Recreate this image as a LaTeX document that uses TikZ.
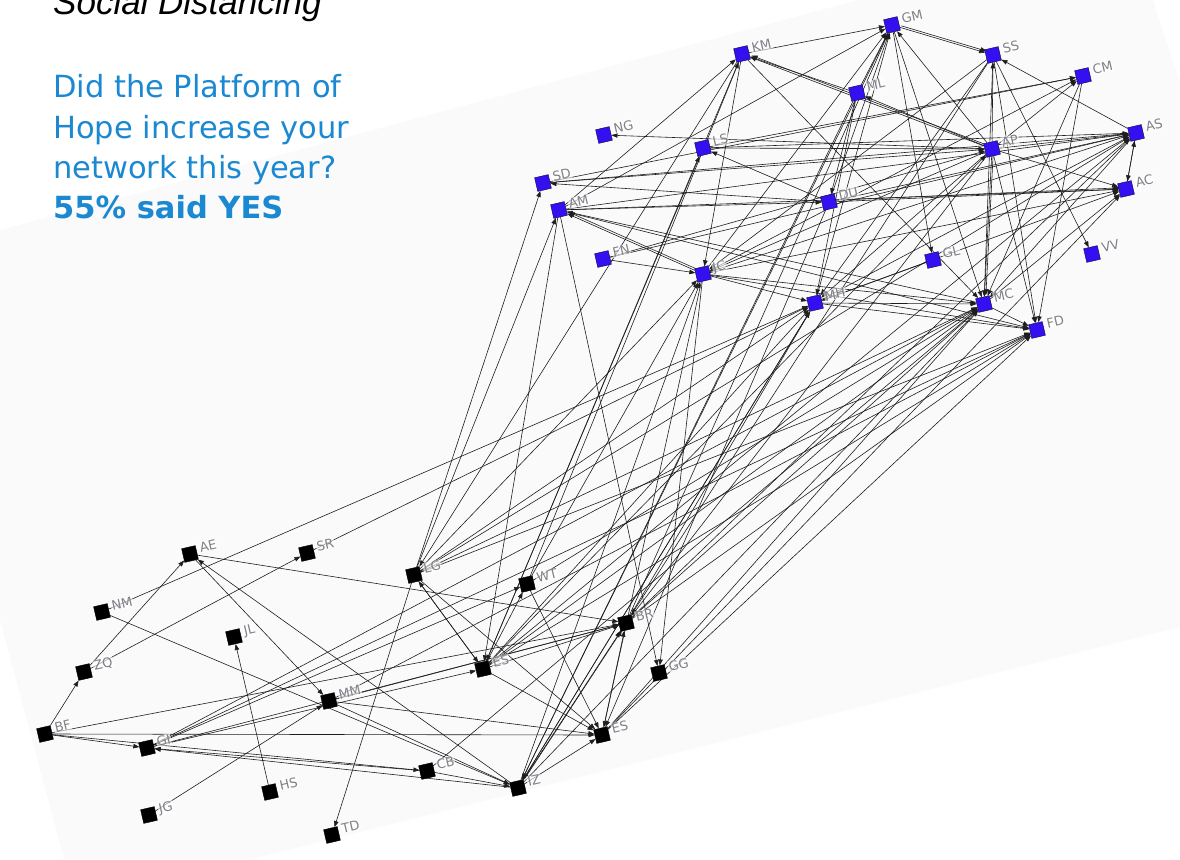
\documentclass[tikz,border=0pt]{standalone}
\usepackage{fontspec}
\setmainfont{DejaVu Sans}
\newfontfamily\headfont{Liberation Sans}
\usetikzlibrary{arrows.meta,calc,backgrounds}
\definecolor{qblue}{RGB}{27,136,210}
\definecolor{nodeblue}{RGB}{52,16,240}
\definecolor{edgegray}{RGB}{30,30,30}
\definecolor{labgray}{RGB}{128,128,136}
\definecolor{panel}{RGB}{250,250,250}

\begin{document}
\begin{tikzpicture}[x=1pt,y=-1pt,
  sqb/.style={draw=black!70!nodeblue, fill=nodeblue, minimum size=14pt, inner sep=0pt, rotate=13, line width=0.4pt},
  sqk/.style={draw=black, fill=black, minimum size=14pt, inner sep=0pt, rotate=13},
  lab/.style={text=labgray, font=\fontsize{13}{15}\selectfont, anchor=base west, inner sep=0.6pt,
    rotate=13, fill=white, fill opacity=0.6, text opacity=1},
  edge/.style={draw=edgegray, line width=0.6pt, -{Triangle[length=6pt,width=4.5pt]}},
  qtext/.style={text=qblue, anchor=base west, inner sep=0pt, font=\fontsize{30.5}{40}\selectfont}]

\useasboundingbox (0,0) rectangle (1180,859);

% people, upper group
\foreach \n/\x/\y in {GM/892/25, KM/742/54, SS/993/55, CM/1083/76,
  ML/857/93, AS/1136/133, NG/604/135, LS/703/148, AP/992/149,
  SD/543/183, AC/1126/189, AM/559/210, DU/829/202, FN/603/259,
  JC/703/274, GL/933/260, VV/1092/254, MH/815/303, MC/984/304, FD/1037/330}
  \node[sqb] (\n) at (\x,\y) {};

% people, lower group
\foreach \n/\x/\y in {AE/190/554, SR/307/553, LG/414/575, WT/527/584,
  NM/102/612, BR/626/623, JL/234/637, ZQ/84/672, ESa/483/669,
  GG/659/673, MM/329/701, BF/45/734, ESb/602/735, GI/147/748,
  CB/427/771, IZ/518/788, HS/270/792, JG/149/815, TD/332/835}
  \node[sqk] (\n) at (\x,\y) {};

% initials beside each square
\foreach \n/\s in {GM/GM, KM/KM, SS/SS, CM/CM, ML/ML, AS/AS, NG/NG, LS/LS, AP/AP,
  SD/SD, AC/AC, AM/AM, DU/DU, FN/FN, JC/JC, GL/GL, VV/VV, MH/MH, MC/MC, FD/FD,
  AE/AE, SR/SR, LG/LG, WT/WT, NM/NM, BR/BR, JL/JL, ZQ/ZQ, ESa/ES, GG/GG, MM/MM,
  BF/BF, ESb/ES, GI/GI, CB/CB, IZ/IZ, HS/HS, JG/JG, TD/TD}
  \node[lab] (\n-l) at ($(\n)+(10,-1.5)$) {\s};

\begin{pgfonlayer}{background}
  % tilted sheet behind the network
  \fill[panel] (0,230) -- (858,0) -- (1153,0) -- (1180,82) -- (1180,627)
    -- (252,859) -- (64,859) -- (0,620) -- cycle;

  % ties inside the upper group
  \foreach \a/\b in {KM/GM, ML/GM, AP/GM, JC/GM, MH/GM, AM/GM, DU/GM,
    GM/SS, AS/SS, AP/SS, SS/MC, SS/VV, SS/FD, SS/MH, SS/JC,
    AP/CM, AP/AS, AP/AC, AP/KM, ML/KM, AP/ML, AP/NG, AP/MC, AP/FD, AP/MH, AP/JC,
    LS/AP, SD/AP, FN/AP,
    SD/CM, LS/CM, JC/CM, CM/FD, CM/MC,
    SD/AS, AM/AS, LS/AS, FN/AS, JC/AS, MH/AS, DU/AS, AS/AC, AC/AS, AS/MC,
    DU/AC, AM/AC, MC/AC, JC/AC, MH/AC,
    DU/SD, DU/LS, AM/DU, ML/DU, ML/MH,
    JC/AM, MC/AM, AM/FD, AM/KM,
    FN/JC, KM/JC, KM/MC, GM/MC, GM/GL, GL/MH,
    JC/MH, JC/MC, JC/FD, MH/MC, MH/FD, MC/FD}
    \draw[edge] (\a) -- (\b);

  % ties inside the lower group
  \foreach \a/\b in {ZQ/AE, ZQ/SR, BF/ZQ, AE/MM, IZ/AE, AE/BR, NM/IZ, HS/JL, JG/MM,
    LG/TD, LG/ESa, ESa/LG, LG/ESb, WT/ESb, ESa/ESb, ESa/BR, ESa/WT,
    MM/BR, MM/ESb, MM/IZ, BF/GI, BF/ESb, BF/BR, BF/CB,
    GI/WT, GI/BR, GI/ESa, IZ/GI, CB/GI, CB/IZ, IZ/BR, IZ/ESb, ESb/BR}
    \draw[edge] (\a) -- (\b);

  % ties between the two groups
  \foreach \a/\b in {NM/MH, SR/MH, LG/SD, LG/AM, KM/LG, LG/FD, LG/MC, LG/MH, LG/JC, LG/AS,
    GI/MC, GI/FD, ESa/MH, ESa/MC, ESa/FD, ESa/AS, ESa/AP, ESa/LS, AM/ESa, AM/GG, JC/GG,
    BR/MC, BR/FD, BR/MH, BR/AS, BR/GM, CB/MC, IZ/MH, IZ/MC, IZ/JC, WT/JC, WT/KM,
    KM/ESa, DU/ESb, ML/IZ, GM/IZ, SS/BR, JC/ESb, MH/IZ, AP/BR, ESb/FD, ESb/MC,
    MM/FD, WT/MC, ESb/AC}
    \draw[edge] (\a) -- (\b);

  % doubled ties
  \foreach \a/\b in {JC/AM, GM/SS, IZ/BR, DU/AC, AP/MC, AP/KM}
    \draw[edge, transform canvas={shift={(1.5pt,1.5pt)}}] (\a) -- (\b);
\end{pgfonlayer}

% heading and question
\node[anchor=base west, inner sep=0pt, font=\headfont\itshape\fontsize{35}{40}\selectfont] (title) at (53,15) {Social Distancing};
\node[qtext] (q1) at (53,97) {Did the Platform of};
\node[qtext] (q2) at (53,138) {Hope increase your};
\node[qtext] (q3) at (53,178) {network this year?};
\node[qtext, font=\bfseries\fontsize{30.5}{40}\selectfont] (q4) at (53,218) {55\% said YES};
\end{tikzpicture}
\end{document}
